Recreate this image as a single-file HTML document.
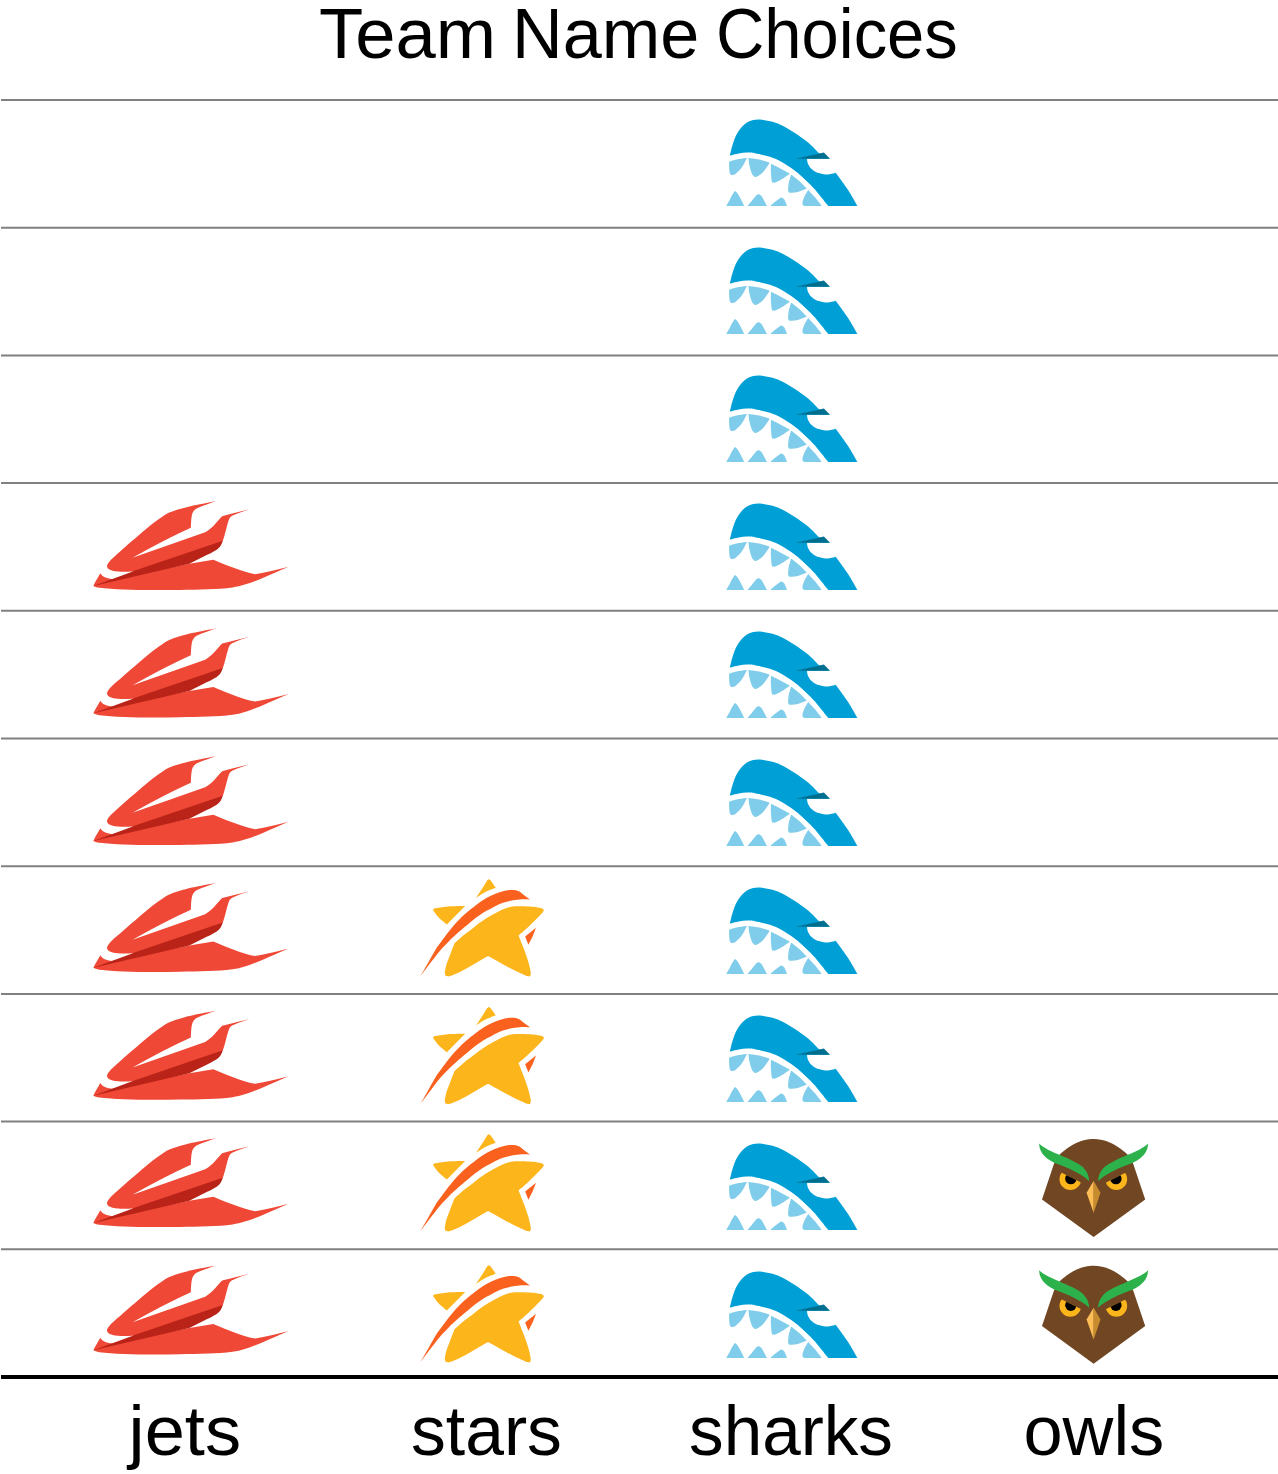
<!DOCTYPE html>
<html lang="en">
<head>
<meta charset="utf-8">
<title>Team Name Choices</title>
<style>
html,body{margin:0;padding:0;background:#fff;}
body{width:1278px;height:1474px;overflow:hidden;}
svg{display:block;}
text{font-family:"Liberation Sans","DejaVu Sans",sans-serif;fill:#000;}
</style>
</head>
<body>
<svg width="1278" height="1474" viewBox="0 0 1278 1474">
<defs>
<g id="jet" transform="scale(0.1666667)">
  <path fill="#EF4836" d="M50 564 C 60 540, 80 512, 92 488 C 100 505, 125 520, 165 523 L 626 430 L 770 406 C 815 425, 860 443, 908 461 C 950 477, 985 488, 1021 493 C 1085 482, 1150 467, 1221 448 C 1170 470, 1120 492, 1077 511 C 1040 527, 1000 542, 964 554 C 935 563, 910 569, 885 573 C 840 580, 790 582, 739 583.5 C 680 586, 625 587, 570 587.4 C 400 590, 200 590, 86 575 C 70 572, 58 569, 50 564 Z"/>
  <path fill="#B92318" d="M50 564 L 283 478 L 300 462 L 822 278 L 827 292 C 822 305, 818 315, 814 322 C 805 335, 795 343, 780 352 C 765 361, 750 370, 730 378 L 626 430 Z"/>
  <path fill="#EF4836" d="M785 55 C 735 65, 600 85, 510 122 C 440 152, 300 280, 190 375 C 150 410, 128 435, 133 450 C 140 476, 205 482, 283 477 L 827 292 C 842 255, 850 200, 865 162 C 872 148, 880 145, 890 140 C 920 126, 960 112, 987 104 C 930 118, 870 132, 823 145 C 795 170, 770 215, 721 242 L 285 395 Q 480 285 635 215 C 637 160, 640 135, 649 119 C 655 108, 665 100, 679 94 C 710 80, 750 67, 785 55 Z"/>
</g>
<g id="star" transform="scale(0.1666667)">
  <path fill="#FDB51C" d="M 396.0 155.0 C 403.3 143.8, 429.0 105.2, 440.0 88.0 C 451.0 70.8, 458.3 58.0, 462.0 52.0 C 463.7 50.6, 468.5 43.7, 472.0 43.4 C 475.5 43.1, 481.2 48.9, 483.0 50.0 L 514.5 94.0 C 504.2 98.2, 472.2 109.2, 452.5 119.4 C 432.8 129.6, 405.4 149.1, 396.0 155.0 Z"/>
  <path fill="#FDB51C" d="M 150.0 218.0 C 162.8 216.1, 196.8 209.0, 227.0 206.7 C 257.2 204.4, 313.7 204.4, 331.0 204.0 L 221.0 315.0 C 212.7 307.8, 184.0 284.7, 171.0 271.5 C 158.0 258.3, 147.7 241.9, 143.0 236.0 C 142.3 234.2, 137.8 228.0, 139.0 225.0 C 140.2 222.0, 148.2 219.2, 150.0 218.0 Z"/>
  <path fill="#FDB51C" d="M 267.0 428.0 C 276.3 419.7, 304.0 393.7, 323.0 378.0 C 342.0 362.3, 359.7 349.9, 381.0 334.0 C 402.3 318.1, 424.5 299.4, 451.0 282.5 C 477.5 265.6, 517.0 244.3, 540.0 232.7 C 563.0 221.1, 574.0 217.5, 589.0 213.0 C 604.0 208.5, 608.1 206.6, 630.0 205.7 C 651.9 204.8, 696.0 206.0, 720.5 207.6 C 745.0 209.2, 764.4 212.9, 777.0 215.0 C 789.6 217.1, 792.8 219.2, 796.0 220.0 C 797.2 221.5, 802.7 225.7, 803.0 229.0 C 803.3 232.3, 798.8 238.2, 798.0 240.0 C 791.3 247.1, 774.0 266.5, 758.0 282.7 C 742.0 298.9, 719.5 320.8, 701.7 337.0 C 683.9 353.2, 659.5 372.8, 651.0 380.0 C 656.3 393.4, 673.3 434.7, 683.0 460.7 C 692.7 486.7, 702.4 513.9, 709.0 535.8 C 715.6 557.7, 719.7 579.3, 722.4 592.0 C 725.1 604.7, 724.6 608.7, 725.0 612.0 C 723.8 614.3, 722.5 624.0, 718.0 626.0 C 713.5 628.0, 701.3 624.3, 698.0 624.0 C 683.0 616.8, 635.3 595.1, 607.8 581.0 C 580.2 566.9, 556.0 552.4, 532.7 539.6 C 509.5 526.8, 479.0 509.9, 468.3 504.0 C 457.9 509.9, 434.8 523.0, 405.6 539.6 C 376.4 556.2, 322.3 588.8, 293.0 603.4 C 263.7 618.0, 240.5 623.1, 230.0 627.0 C 227.3 626.3, 217.6 626.5, 214.0 623.0 C 210.4 619.5, 209.3 608.8, 208.4 606.0 C 210.0 598.0, 212.5 576.0, 217.8 558.0 C 223.1 540.0, 231.8 519.7, 240.0 498.0 C 248.2 476.3, 262.5 439.7, 267.0 428.0 Z"/>
  <path fill="#FB611E" d="M 62.0 626.0 C 69.2 613.5, 89.7 577.9, 105.0 551.0 C 120.3 524.1, 141.5 485.1, 154.0 464.4 C 166.5 443.7, 163.2 449.5, 180.0 427.0 C 196.8 404.5, 230.0 358.6, 255.0 329.5 C 280.0 300.4, 306.3 274.4, 330.0 252.5 C 353.7 230.6, 378.8 212.1, 397.0 198.0 C 415.2 183.9, 422.7 178.0, 439.0 168.0 C 455.3 158.0, 473.2 147.2, 495.0 138.0 C 516.8 128.8, 550.0 118.0, 570.0 113.0 C 590.0 108.0, 601.2 107.6, 615.0 108.0 C 628.8 108.4, 641.7 110.6, 653.0 115.6 C 664.3 120.6, 671.8 129.6, 683.0 138.0 C 694.2 146.4, 714.2 161.3, 720.5 166.0 C 714.2 165.6, 698.1 163.2, 683.0 163.5 C 667.9 163.8, 648.0 165.2, 630.0 168.0 C 612.0 170.8, 592.3 175.0, 575.0 180.0 C 557.7 185.0, 550.5 186.0, 526.0 198.0 C 501.5 210.0, 456.0 234.0, 427.8 252.0 C 399.6 270.0, 382.8 285.0, 357.0 306.0 C 331.2 327.0, 293.1 360.3, 273.0 378.0 C 252.9 395.7, 252.1 396.3, 236.6 412.0 C 221.1 427.7, 197.8 451.3, 180.0 472.0 C 162.2 492.7, 149.7 510.3, 130.0 536.0 C 110.3 561.7, 73.3 611.0, 62.0 626.0 Z"/>
  <path fill="#FB611E" d="M 756 335 L 691 387.4 L 710.3 436.3 Q 740 385 756 335 Z"/>
</g>
<g id="shark" transform="scale(0.1666667)">
  <path fill="#00A0D6" d="M 179.3 285.4 C 181.9 274.9, 188.6 242.8, 195.0 222.3 C 201.4 201.8, 208.9 179.8, 217.7 162.2 C 226.5 144.6, 237.1 129.5, 247.7 117.0 C 258.3 104.5, 269.6 94.5, 281.5 87.0 C 293.4 79.5, 305.9 75.0, 319.0 72.0 C 332.1 69.0, 343.5 67.7, 360.4 69.0 C 377.3 70.3, 400.6 74.6, 420.5 79.6 C 440.4 84.6, 456.0 87.6, 480.0 98.8 C 504.0 110.0, 536.3 128.5, 564.5 146.6 C 592.7 164.7, 624.1 186.3, 649.0 207.2 C 673.9 228.1, 703.0 261.2, 713.8 272.0 L 780.0 303.8 L 641.5 303.8 C 642.8 309.4, 644.0 327.0, 649.0 337.6 C 654.0 348.2, 662.1 359.2, 671.5 367.6 C 680.9 376.1, 691.5 383.2, 705.3 388.3 C 719.0 393.4, 739.6 397.4, 754.0 398.4 C 768.4 399.3, 781.7 395.7, 791.7 394.0 C 801.7 392.3, 810.5 389.2, 814.2 388.3 C 826.1 404.9, 864.0 454.6, 885.6 487.8 C 907.2 521.0, 934.1 570.7, 943.8 587.3 L 769.2 587.3 C 760.4 576.3, 734.8 543.2, 716.6 521.6 C 698.4 500.0, 681.9 480.0, 660.0 457.8 C 638.1 435.6, 610.0 408.7, 585.0 388.3 C 560.0 367.9, 534.3 350.4, 510.0 335.7 C 485.7 321.0, 469.2 310.6, 439.3 300.0 C 409.4 289.4, 356.6 277.3, 330.3 271.9 C 304.0 266.5, 297.8 267.2, 281.5 267.4 C 265.2 267.6, 249.7 270.0, 232.7 273.0 C 215.7 276.0, 188.2 283.3, 179.3 285.4 Z"/>
  <path fill="#006F8F" d="M 573 304.4 L 743.4 267.2 L 780 304.4 Z"/>
  <g fill="#7FCDEA">
    <path d="M 174.5 322.5 C 182.9 320.0, 207.2 311.2, 225.0 307.5 C 242.8 303.8, 272.1 301.2, 281.5 300.0 C 276.5 309.3, 262.8 340.3, 251.5 356.0 C 240.2 371.7, 222.9 386.5, 214.0 394.0 C 205.1 401.5, 200.7 399.8, 198.0 401.0 C 196.0 401.2, 189.3 403.8, 186.0 402.0 C 182.7 400.2, 179.3 392.0, 178.0 390.0 C 177.5 385.0, 175.6 371.2, 175.0 360.0 C 174.4 348.8, 174.6 328.8, 174.5 322.5 Z"/>
    <path d="M 291.0 300.0 C 301.3 301.6, 331.7 304.7, 353.0 309.4 C 374.3 314.1, 407.7 324.9, 418.6 328.0 C 412.7 336.5, 393.9 366.2, 383.0 379.0 C 372.1 391.8, 359.8 399.7, 353.0 405.0 C 346.2 410.3, 343.8 410.0, 342.0 411.0 C 340.0 411.4, 333.7 414.5, 330.0 413.5 C 326.3 412.5, 321.7 406.4, 320.0 405.0 C 318.6 403.2, 315.5 404.0, 311.6 394.0 C 307.7 384.0, 299.9 360.7, 296.5 345.0 C 293.1 329.3, 291.9 307.5, 291.0 300.0 Z"/>
    <path d="M 426.0 334.5 C 434.5 338.8, 458.0 350.1, 476.8 360.0 C 495.6 369.9, 528.5 388.3, 538.8 394.0 C 531.6 399.0, 509.1 415.6, 495.6 424.0 C 482.1 432.4, 465.9 440.7, 458.0 444.6 C 450.1 448.5, 449.7 447.0, 448.0 447.5 C 446.2 447.7, 440.0 450.1, 437.0 448.5 C 434.0 446.9, 431.2 439.8, 430.0 438.0 C 430.6 435.7, 429.5 434.5, 428.5 424.0 C 427.5 413.5, 425.4 389.9, 425.0 375.0 C 424.6 360.1, 425.8 341.2, 426.0 334.5 Z"/>
    <path d="M 547.0 399.5 C 555.0 405.9, 579.2 424.0, 595.0 438.0 C 610.8 452.0, 633.8 475.8, 641.5 483.3 C 632.1 486.9, 600.6 500.4, 585.0 504.7 C 569.4 509.0, 554.2 508.3, 548.0 509.0 C 545.7 508.7, 537.3 509.5, 534.0 507.0 C 530.7 504.5, 529.0 496.2, 528.0 494.0 C 528.8 486.7, 529.3 465.8, 532.5 450.0 C 535.7 434.2, 544.6 407.9, 547.0 399.5 Z"/>
    <path d="M 649.0 491.6 C 655.8 499.0, 676.5 520.0, 690.0 536.0 C 703.5 552.0, 723.1 578.8, 729.7 587.3 L 624.0 587.3 C 622.4 585.8, 615.7 582.5, 614.4 578.0 C 613.1 573.5, 615.7 563.0, 616.0 560.0 C 618.0 554.7, 622.5 539.4, 628.0 528.0 C 633.5 516.6, 645.5 497.7, 649.0 491.6 Z"/>
    <path d="M 157.6 587.3 C 160.7 582.0, 170.1 566.7, 176.3 555.4 C 182.6 544.1, 189.5 529.1, 195.1 519.7 C 200.7 510.3, 204.5 499.3, 210.1 499.0 C 215.7 498.7, 222.6 509.0, 228.9 517.8 C 235.2 526.6, 241.8 540.1, 247.7 551.7 C 253.6 563.3, 261.8 581.4, 264.6 587.3 L 157.6 587.3 Z"/>
    <path d="M 285.3 587.3 C 290.3 581.4, 306.6 562.0, 315.3 551.7 C 324.1 541.4, 331.5 531.2, 337.8 525.4 C 344.1 519.6, 347.6 516.5, 352.9 517.1 C 358.2 517.7, 364.2 522.1, 369.8 529.1 C 375.4 536.1, 381.4 549.5, 386.7 559.2 C 392.0 568.9, 399.2 582.6, 401.7 587.3 L 285.3 587.3 Z"/>
    <path d="M 422.4 587.3 C 427.1 583.2, 441.4 570.4, 450.5 562.9 C 459.6 555.4, 470.2 546.7, 476.8 542.3 C 483.4 537.9, 485.6 536.0, 490.0 536.6 C 494.4 537.2, 499.0 541.0, 503.1 546.0 C 507.2 551.0, 511.3 559.8, 514.4 566.7 C 517.5 573.6, 520.6 583.9, 521.9 587.3 L 422.4 587.3 Z"/>
  </g>
</g>
<g id="owl" transform="scale(0.1666667)">
  <path fill="#704623" d="M 621.6 618.4 L 312.0 392.5 L 383.0 182.0 C 385.5 176.7, 391.8 160.0, 398.0 150.0 C 404.2 140.0, 410.0 132.0, 420.0 122.0 C 430.0 112.0, 442.1 101.1, 457.8 90.0 C 473.5 78.9, 495.2 64.5, 514.0 55.5 C 532.8 46.5, 552.6 40.2, 570.5 36.0 C 588.4 31.8, 604.6 30.4, 621.6 30.4 C 638.6 30.4, 654.8 31.8, 672.7 36.0 C 690.6 40.2, 710.4 46.5, 729.2 55.5 C 748.0 64.5, 769.7 78.9, 785.4 90.0 C 801.1 101.1, 813.2 112.0, 823.2 122.0 C 833.2 132.0, 839.0 140.0, 845.2 150.0 C 851.4 160.0, 857.7 176.7, 860.2 182.0 L 931.2 392.5 L 621.6 618.4 Z"/>
  <clipPath id="lidL"><path d="M380 207 L 600 317.5 L 600 400 L 380 400 Z"/></clipPath>
  <clipPath id="lidR"><path d="M863.2 207 L 643.2 317.5 L 643.2 400 L 863.2 400 Z"/></clipPath>
  <g clip-path="url(#lidL)"><circle cx="482" cy="271" r="65" fill="#FDB51C"/><circle cx="485" cy="268" r="34" fill="#000"/></g>
  <g clip-path="url(#lidR)"><circle cx="758" cy="271" r="65" fill="#FDB51C"/><circle cx="755.5" cy="268" r="34" fill="#000"/></g>
  <path fill="#2DB14A" d="M 294.4 56.7 C 297.8 59.6, 306.6 68.0, 315.0 74.0 C 323.4 80.0, 327.5 83.7, 345.0 92.4 C 362.5 101.1, 395.0 114.7, 420.0 126.0 C 445.0 137.3, 473.1 148.7, 495.0 160.0 C 517.0 171.3, 537.2 181.9, 551.7 193.8 C 566.2 205.7, 574.8 219.5, 581.7 231.4 C 588.6 243.3, 591.0 256.6, 593.0 265.0 C 595.0 273.4, 593.7 279.2, 593.8 282.0 C 589.9 278.7, 580.6 269.2, 570.5 262.0 C 560.4 254.8, 548.6 247.9, 533.0 239.0 C 517.4 230.1, 495.4 217.6, 476.6 208.8 C 457.8 200.0, 435.6 192.6, 420.0 186.3 C 404.4 180.1, 395.2 177.6, 382.7 171.3 C 370.2 165.0, 356.3 157.5, 345.0 148.7 C 333.7 139.9, 322.5 128.7, 315.0 118.7 C 307.5 108.7, 303.4 98.9, 300.0 88.6 C 296.6 78.3, 295.3 62.0, 294.4 56.7 Z"/>
  <path fill="#2DB14A" d="M 948.8 56.7 C 945.4 59.6, 936.6 68.0, 928.2 74.0 C 919.8 80.0, 915.7 83.7, 898.2 92.4 C 880.7 101.1, 848.2 114.7, 823.2 126.0 C 798.2 137.3, 770.2 148.7, 748.2 160.0 C 726.2 171.3, 706.0 181.9, 691.5 193.8 C 677.0 205.7, 668.4 219.5, 661.5 231.4 C 654.6 243.3, 652.2 256.6, 650.2 265.0 C 648.2 273.4, 649.5 279.2, 649.4 282.0 C 653.3 278.7, 662.6 269.2, 672.7 262.0 C 682.8 254.8, 694.6 247.9, 710.2 239.0 C 725.9 230.1, 747.8 217.6, 766.6 208.8 C 785.4 200.0, 807.6 192.6, 823.2 186.3 C 838.9 180.1, 848.0 177.6, 860.5 171.3 C 873.0 165.0, 886.9 157.5, 898.2 148.7 C 909.5 139.9, 920.7 128.7, 928.2 118.7 C 935.7 108.7, 939.8 98.9, 943.2 88.6 C 946.6 78.3, 947.9 62.0, 948.8 56.7 Z"/>
  <path fill="#FDBE58" d="M 622.1 281 L 579.5 353 L 622.1 474 Z"/>
  <path fill="#C68C2E" d="M 621.6 281 L 663 353 L 621.6 474 Z"/>
</g>

</defs>
<rect width="1278" height="1474" fill="#fff"/>
<line x1="1" x2="1278" y1="100.0" y2="100.0" stroke="#808080" stroke-width="2"/>
<line x1="1" x2="1278" y1="227.7" y2="227.7" stroke="#808080" stroke-width="2"/>
<line x1="1" x2="1278" y1="355.4" y2="355.4" stroke="#808080" stroke-width="2"/>
<line x1="1" x2="1278" y1="483.1" y2="483.1" stroke="#808080" stroke-width="2"/>
<line x1="1" x2="1278" y1="610.8" y2="610.8" stroke="#808080" stroke-width="2"/>
<line x1="1" x2="1278" y1="738.5" y2="738.5" stroke="#808080" stroke-width="2"/>
<line x1="1" x2="1278" y1="866.2" y2="866.2" stroke="#808080" stroke-width="2"/>
<line x1="1" x2="1278" y1="993.9" y2="993.9" stroke="#808080" stroke-width="2"/>
<line x1="1" x2="1278" y1="1121.6" y2="1121.6" stroke="#808080" stroke-width="2"/>
<line x1="1" x2="1278" y1="1249.3" y2="1249.3" stroke="#808080" stroke-width="2"/>
<line x1="1" x2="1278" y1="1377" y2="1377" stroke="#000" stroke-width="4"/>
<use href="#jet" x="85" y="492.0"/>
<use href="#jet" x="85" y="619.3"/>
<use href="#jet" x="85" y="747.0"/>
<use href="#jet" x="85" y="873.8"/>
<use href="#jet" x="85" y="1001.7"/>
<use href="#jet" x="85" y="1129.0"/>
<use href="#jet" x="85" y="1256.3"/>
<use href="#star" x="410" y="872.0"/>
<use href="#star" x="410" y="999.7"/>
<use href="#star" x="410" y="1127.0"/>
<use href="#star" x="410" y="1258.0"/>
<use href="#shark" x="700" y="108.0"/>
<use href="#shark" x="700" y="236.0"/>
<use href="#shark" x="700" y="364.0"/>
<use href="#shark" x="700" y="492.0"/>
<use href="#shark" x="700" y="620.0"/>
<use href="#shark" x="700" y="748.0"/>
<use href="#shark" x="700" y="876.0"/>
<use href="#shark" x="700" y="1004.0"/>
<use href="#shark" x="700" y="1132.0"/>
<use href="#shark" x="700" y="1260.0"/>
<use href="#owl" x="990" y="1134.0"/>
<use href="#owl" x="990" y="1260.7"/>
<text y="58" font-size="70"><tspan x="319" textLength="177.1" lengthAdjust="spacingAndGlyphs">Team</tspan> <tspan x="512" textLength="187.3" lengthAdjust="spacingAndGlyphs">Name</tspan> <tspan x="716" textLength="241.8" lengthAdjust="spacingAndGlyphs">Choices</tspan></text>
<text x="128.6" y="1455.4" font-size="70" textLength="112.5" lengthAdjust="spacingAndGlyphs">jets</text>
<text x="411" y="1455.4" font-size="70" textLength="150.9" lengthAdjust="spacingAndGlyphs">stars</text>
<text x="689" y="1455.4" font-size="70" textLength="204" lengthAdjust="spacingAndGlyphs">sharks</text>
<text x="1023.4" y="1455.4" font-size="70" textLength="140.9" lengthAdjust="spacingAndGlyphs">owls</text>

</svg>
</body>
</html>
